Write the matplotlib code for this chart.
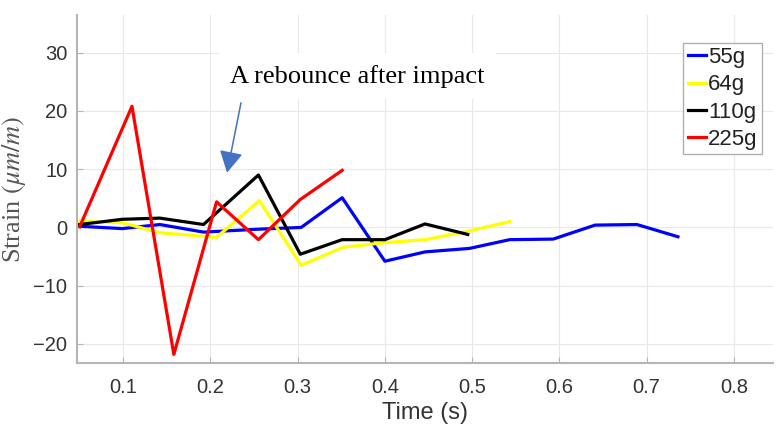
import matplotlib.pyplot as plt
import numpy as np

# time (s) and strain (um/m) per ball weight
t_55 = [0.05, 0.099, 0.142, 0.192, 0.255, 0.304, 0.351, 0.400, 0.446, 0.497, 0.543, 0.593, 0.641, 0.689, 0.736]
s_55 = [0.2, -0.2, 0.5, -0.8, -0.3, 0.0, 5.1, -5.8, -4.2, -3.6, -2.1, -2.0, 0.4, 0.5, -1.6]

t_64 = [0.05, 0.099, 0.142, 0.207, 0.256, 0.304, 0.352, 0.400, 0.446, 0.497, 0.543]
s_64 = [1.1, 0.8, -0.9, -1.7, 4.6, -6.5, -3.4, -2.6, -2.1, -0.6, 1.0]

t_110 = [0.05, 0.099, 0.142, 0.192, 0.255, 0.303, 0.351, 0.400, 0.446, 0.495]
s_110 = [0.5, 1.4, 1.6, 0.5, 9.0, -4.6, -2.1, -2.1, 0.6, -1.2]

t_225 = [0.05, 0.110, 0.158, 0.207, 0.255, 0.303, 0.351]
s_225 = [0.1, 20.8, -21.8, 4.4, -2.1, 4.8, 9.8]

labels = ['55g', '64g', '110g', '225g']
colors = ['blue', 'yellow', 'black', 'red']

plt.rcParams['font.family'] = ['Liberation Sans', 'DejaVu Sans']
plt.rcParams['mathtext.fontset'] = 'stix'

fig = plt.figure(figsize=(7.82, 4.37), dpi=100)
ax = fig.add_axes([0.0985, 0.169, 0.89, 0.797])

series = [(t_55, s_55), (t_64, s_64), (t_110, s_110), (t_225, s_225)]
for (t, s), lab, c in zip(series, labels, colors):
    ax.plot(t, s, color=c, lw=2.3, label=lab)

ax.set_xlim(0.047, 0.845)
ax.set_ylim(-23.3, 36.5)
ax.set_xticks(np.arange(0.1, 0.81, 0.1))
ax.set_yticks([-20, -10, 0, 10, 20, 30])
ax.set_xticklabels(['0.1', '0.2', '0.3', '0.4', '0.5', '0.6', '0.7', '0.8'])
ax.set_yticklabels(['\u221220', '\u221210', '0', '10', '20', '30'])
ax.grid(True, color='#e8e8e8', lw=0.8)
ax.set_axisbelow(True)

for side in ['top', 'right']:
    ax.spines[side].set_visible(False)
for side in ['left', 'bottom']:
    ax.spines[side].set_color('#b5b5b5')
    ax.spines[side].set_linewidth(1.5)
ax.tick_params(direction='in', length=4, color='#b5b5b5', labelsize=14.5,
               labelcolor='#333333')
ax.tick_params(axis='x', pad=11)
ax.tick_params(axis='y', pad=7)

ax.set_xlabel('Time (s)', fontsize=17, color='#333333', labelpad=3)
ax.set_ylabel(r'Strain $(\mu m/m)$', fontsize=19, color='#555555',
              family='Liberation Serif', labelpad=4)

ax.text(0.2229, 26.0, 'A rebounce after impact', fontsize=19,
        family='Liberation Serif', va='center', ha='left', zorder=5,
        bbox=dict(facecolor='white', edgecolor='none', pad=8))
ax.annotate('', xy=(0.219, 9.4), xytext=(0.235, 21.4),
            arrowprops=dict(arrowstyle='-|>,head_length=0.55,head_width=0.3',
                            color='#4472c4', lw=1.1,
                            mutation_scale=24, shrinkA=0, shrinkB=0))

leg = ax.legend(loc='upper right', bbox_to_anchor=(0.984, 0.92), fontsize=16,
                handlelength=0.8, handletextpad=0.1, labelspacing=0.28,
                borderpad=0.2, borderaxespad=0, fancybox=False, framealpha=1)
leg.get_frame().set_edgecolor('#b0b0b0')
for txt in leg.get_texts():
    txt.set_color('#222222')

fig.savefig('out.png', dpi=100)
